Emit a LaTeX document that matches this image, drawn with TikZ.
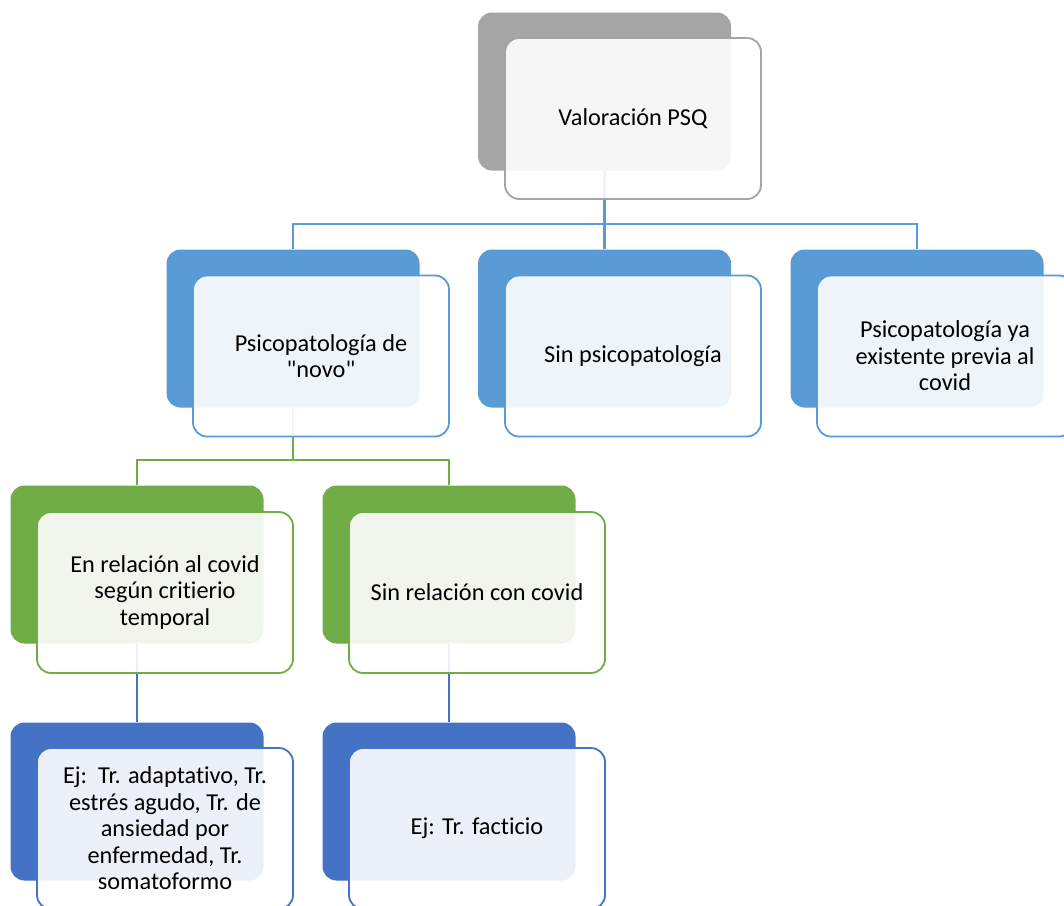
\documentclass[tikz,border=0pt]{standalone}
\usepackage{fontspec}
\setmainfont{Carlito}[Ligatures={TeXOff,NoCommon}]
\usetikzlibrary{backgrounds}
\definecolor{cgray}{HTML}{A5A5A5}
\definecolor{cblue}{HTML}{5B9BD5}
\definecolor{cgreen}{HTML}{70AD47}
\definecolor{cdblue}{HTML}{4472C4}
\tikzset{
  backbox/.style={rectangle, rounded corners=14pt, fill=#1, draw=none,
    minimum width=253pt, minimum height=158pt, inner sep=0pt},
  frontbox/.style={rectangle, rounded corners=14pt, draw=#1, line width=1.8pt,
    fill=white, fill opacity=0.9, text opacity=1,
    minimum width=256pt, minimum height=161pt, inner sep=0pt,
    align=center, font=\fontsize{24.3pt}{26.5pt}\selectfont, text=black},
  conn/.style={draw=#1, line width=2.2pt},
}
\begin{document}
\begin{tikzpicture}[x=1pt,y=-1pt]
\useasboundingbox (0,0) rectangle (1064,905);
% level 1
\node[backbox=cgray] (topb) at (604.5,91.5) {};
\node[frontbox=cgray] (topf) at (633,118.5) {Valoración PSQ};
% level 2
\node[backbox=cblue] (l2ab) at (293,328.5) {};
\node[frontbox=cblue] (l2af) at (321,356) {Psicopatología de\\"novo"};
\node[backbox=cblue] (l2bb) at (604.5,328.5) {};
\node[frontbox=cblue] (l2bf) at (633,356) {Sin psicopatología};
\node[backbox=cblue] (l2cb) at (917,328.5) {};
\node[frontbox=cblue] (l2cf) at (945,356) {Psicopatología ya\\existente previa al\\covid};
% level 3
\node[backbox=cgreen] (l3ab) at (137,564.5) {};
\node[frontbox=cgreen] (l3af) at (165,592.5) {En relación al covid\\según critierio\\temporal};
\node[backbox=cgreen] (l3bb) at (449,564.5) {};
\node[frontbox=cgreen] (l3bf) at (477,592.5) {Sin relación con covid};
% level 4
\node[backbox=cdblue] (l4ab) at (137,801.5) {};
\node[frontbox=cdblue] (l4af) at (165,828.5) {Ej:\ \ Tr. adaptativo, Tr.\\estrés agudo, Tr. de\\ansiedad por\\enfermedad, Tr.\\somatoformo};
\node[backbox=cdblue] (l4bb) at (449,801.5) {};
\node[frontbox=cdblue] (l4bf) at (477,828.5) {Ej: Tr. facticio};
% connectors
\coordinate (j1) at (604.5,224);
\coordinate (j2) at (293,460);
\begin{scope}[on background layer]
\draw[conn=cblue] (topb.south) -- (j1);
\draw[conn=cblue] (l2ab.north) |- (j1) -| (l2cb.north);
\draw[conn=cblue] (j1) -- (l2bb.north);
\draw[conn=cgreen] (l2ab.south) -- (j2);
\draw[conn=cgreen] (l3ab.north) |- (j2) -| (l3bb.north);
\draw[conn=cdblue] (l3ab.south) -- (l4ab.north);
\draw[conn=cdblue] (l3bb.south) -- (l4bb.north);
\end{scope}
\end{tikzpicture}
\end{document}
